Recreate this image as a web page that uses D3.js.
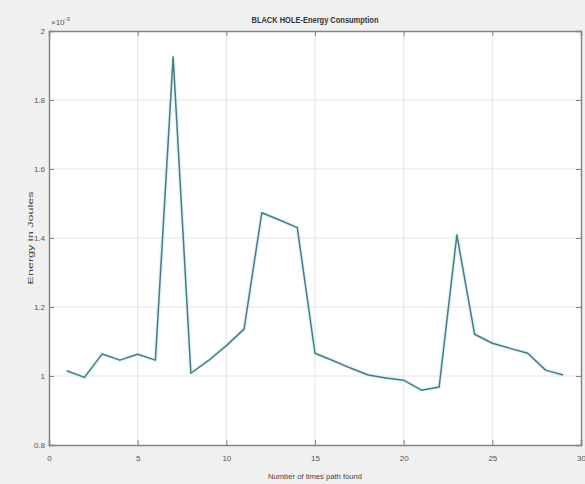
<!DOCTYPE html>
<html>
<head>
<meta charset="utf-8">
<script src="https://cdn.jsdelivr.net/npm/d3@7"></script>
<style>
  html, body { margin: 0; padding: 0; background: #f0f0f0; }
  svg { display: block; font-family: "Liberation Sans", Arial, sans-serif; }
</style>
</head>
<body>
<svg id="chart" width="585" height="484"></svg>
<script>
// Energy consumed per run (values in units of 1e-3 J)
const runs = [1,2,3,4,5,6,7,8,9,10,11,12,13,14,15,16,17,18,19,20,21,22,23,24,25,26,27,28,29];
const energy = [1.015,0.996,1.064,1.046,1.063,1.046,1.925,1.008,1.045,1.088,1.136,1.473,1.452,1.430,1.066,1.045,1.023,1.003,0.994,0.988,0.959,0.968,1.409,1.121,1.095,1.080,1.066,1.017,1.003];
const xTicks = [0,5,10,15,20,25,30];
const yTicks = [0.8,1,1.2,1.4,1.6,1.8,2];
const yTickLabels = ["0.8","1","1.2","1.4","1.6","1.8","2"];

const svg = d3.select("#chart");
const m = {left: 49, right: 581, top: 31, bottom: 445};

const x = d3.scaleLinear().domain([0, 30]).range([m.left, m.right]);
const y = d3.scaleLinear().domain([0.8, 2]).range([m.bottom, m.top]);

// axes background
svg.append("rect")
  .attr("x", m.left).attr("y", m.top)
  .attr("width", m.right - m.left).attr("height", m.bottom - m.top)
  .attr("fill", "#ffffff");

// grid
const grid = svg.append("g").attr("stroke", "#e4e4e4").attr("stroke-width", 1);
grid.selectAll(".gx").data(xTicks.slice(1, -1)).join("line")
  .attr("x1", d => x(d)).attr("x2", d => x(d))
  .attr("y1", m.top).attr("y2", m.bottom);
grid.selectAll(".gy").data(yTicks.slice(1, -1)).join("line")
  .attr("y1", d => y(d)).attr("y2", d => y(d))
  .attr("x1", m.left).attr("x2", m.right);

// data line
const line = d3.line().x((d, i) => x(runs[i])).y(d => y(d));
svg.append("path").datum(energy)
  .attr("d", line).attr("fill", "none")
  .attr("stroke", "#cdeff3").attr("stroke-width", 4).attr("stroke-opacity", 0.6)
  .attr("stroke-linejoin", "round");
svg.append("path").datum(energy)
  .attr("d", line).attr("fill", "none")
  .attr("stroke", "#4b7a85").attr("stroke-width", 1.5)
  .attr("stroke-linejoin", "round");

// axes (ticks drawn inward, box on)
const axisColor = "#858585";
const tickLen = 5;
const xAxisB = d3.axisBottom(x).tickValues(xTicks).tickSize(-tickLen).tickPadding(10).tickFormat(d3.format("d"));
const xAxisT = d3.axisTop(x).tickValues(xTicks).tickSize(-tickLen).tickFormat("");
const yAxisL = d3.axisLeft(y).tickValues(yTicks).tickSize(-tickLen).tickPadding(4)
  .tickFormat((d, i) => yTickLabels[i]);
const yAxisR = d3.axisRight(y).tickValues(yTicks).tickSize(-tickLen).tickFormat("");

function styleAxis(g) {
  g.select(".domain").attr("stroke", axisColor).attr("stroke-width", 1.5);
  g.selectAll(".tick line").attr("stroke", axisColor);
  g.selectAll(".tick text").attr("fill", "#555").attr("font-size", 8);
  g.attr("font-family", null);
}
svg.append("g").attr("transform", `translate(0,${m.bottom})`).call(xAxisB).call(styleAxis);
svg.append("g").attr("transform", `translate(0,${m.top})`).call(xAxisT).call(styleAxis);
svg.append("g").attr("transform", `translate(${m.left},0)`).call(yAxisL).call(styleAxis);
svg.append("g").attr("transform", `translate(${m.right},0)`).call(yAxisR).call(styleAxis);

// exponent marker
const ex = svg.append("text").attr("x", 51).attr("y", 25).attr("fill", "#555").attr("font-size", 8);
ex.append("tspan").text("\u00d710");
ex.append("tspan").attr("dy", -4).attr("font-size", 6).text("-3");

// title and axis labels
svg.append("text").attr("x", 315).attr("y", 23).attr("text-anchor", "middle")
  .attr("font-size", 9).attr("font-weight", "bold").attr("fill", "#333")
  .attr("textLength", 127).attr("lengthAdjust", "spacingAndGlyphs")
  .text("BLACK HOLE-Energy Consumption");
svg.append("text").attr("x", 315).attr("y", 479).attr("text-anchor", "middle")
  .attr("font-size", 8).attr("fill", "#444")
  .attr("textLength", 94).attr("lengthAdjust", "spacingAndGlyphs")
  .text("Number of times path found");
svg.append("text").attr("transform", "translate(33,238) rotate(-90)").attr("text-anchor", "middle")
  .attr("font-size", 8).attr("fill", "#444")
  .attr("textLength", 93).attr("lengthAdjust", "spacingAndGlyphs")
  .text("Energy in Joules");
</script>
</body>
</html>
